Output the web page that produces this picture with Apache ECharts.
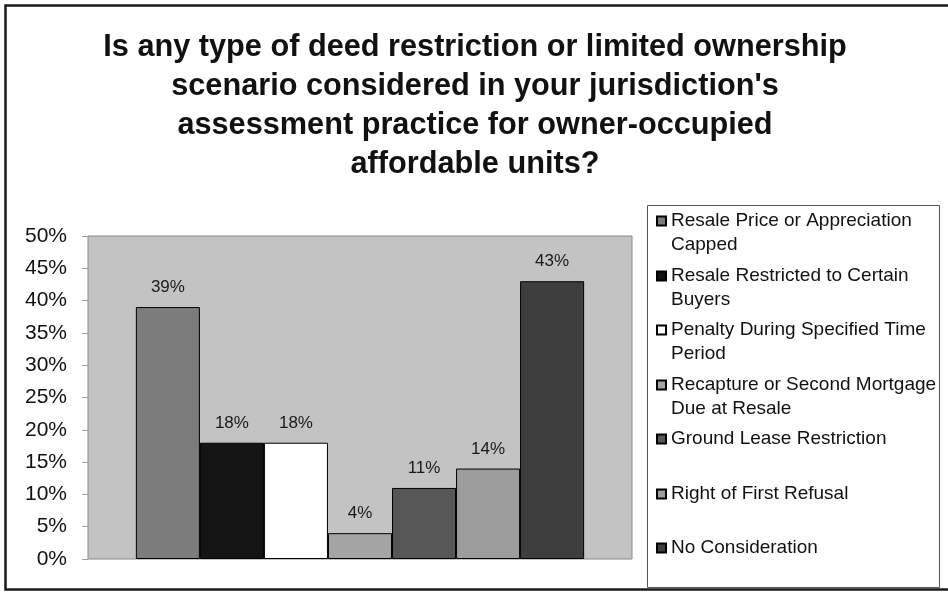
<!DOCTYPE html>
<html>
<head>
<meta charset="utf-8">
<script src="https://cdn.jsdelivr.net/npm/echarts@6/dist/echarts.min.js"></script>
<style>
  html, body { margin: 0; padding: 0; background: #ffffff; }
  #chart { width: 948px; height: 592px; }
</style>
</head>
<body>
<div id="chart"></div>
<script>
// Survey answers: share of jurisdictions per type of restriction considered
const seriesNames = [
  'Resale Price or Appreciation\nCapped',
  'Resale Restricted to Certain\nBuyers',
  'Penalty During Specified Time\nPeriod',
  'Recapture or Second Mortgage\nDue at Resale',
  'Ground Lease Restriction',
  'Right of First Refusal',
  'No Consideration'
];
const seriesValues = [39, 18, 18, 4, 11, 14, 43];
const yTicks = [0, 5, 10, 15, 20, 25, 30, 35, 40, 45, 50];
const barColors = ['#7c7c7c', '#141414', '#ffffff', '#a4a4a4', '#575757', '#9c9c9c', '#3e3e3e'];

const titleText = "Is any type of deed restriction or limited ownership\nscenario considered in your jurisdiction's\nassessment practice for owner-occupied\naffordable units?";

const FONT = '"Liberation Sans", Arial, sans-serif';

// vertical centre of each legend entry's first line
const legendRowCenters = [221, 276, 330, 385, 439, 494, 548];

const series = seriesNames.map((name, i) => ({
  type: 'bar',
  name: name,
  data: [seriesValues[i]],
  barGap: '0%',
  barCategoryGap: '17.6%',
  itemStyle: { color: barColors[i], borderColor: '#000000', borderWidth: 1 },
  label: {
    show: true,
    position: 'top',
    distance: 11,
    formatter: '{c}%',
    fontFamily: FONT,
    fontSize: 17,
    color: '#1a1a1a'
  }
}));

// Wrapped entries get an empty leading line so the marker sits beside the first line
const legends = seriesNames.map((name, i) => {
  const twoLine = name.indexOf('\n') >= 0;
  return {
    left: 656,
    top: legendRowCenters[i] - (twoLine ? 36 : 12),
    padding: 0,
    orient: 'vertical',
    itemWidth: 9,
    itemHeight: 9,
    selectedMode: false,
    icon: 'rect',
    data: [name],
    formatter: (n) => (n.indexOf('\n') >= 0 ? '\n' + n : n),
    textStyle: {
      fontFamily: FONT,
      fontSize: 19,
      lineHeight: 24,
      color: '#111111'
    }
  };
});

const chart = echarts.init(document.getElementById('chart'), null, { renderer: 'canvas' });
chart.setOption({
  animation: false,
  backgroundColor: '#ffffff',
  title: {
    text: titleText,
    left: 475,
    top: 28,
    padding: 0,
    textAlign: 'center',
    textStyle: {
      fontFamily: FONT,
      fontWeight: 'bold',
      fontSize: 30.7,
      lineHeight: 39,
      color: '#111111'
    }
  },
  graphic: [
    {
      // outer frame
      type: 'rect',
      shape: { x: 5.5, y: 5.5, width: 950, height: 584 },
      style: { fill: 'none', stroke: '#1a1a1a', lineWidth: 2.5 },
      silent: true
    },
    {
      // legend frame
      type: 'rect',
      shape: { x: 647.5, y: 205.5, width: 292, height: 382 },
      style: { fill: '#ffffff', stroke: '#555555', lineWidth: 1 },
      z: -1,
      silent: true
    }
  ],
  legend: legends,
  grid: {
    left: 88,
    top: 236,
    right: 316,
    bottom: 33,
    show: true,
    backgroundColor: '#c3c3c3',
    borderColor: '#8a8a8a',
    borderWidth: 1
  },
  xAxis: {
    type: 'category',
    data: [''],
    axisLine: { show: false },
    axisTick: { show: false },
    axisLabel: { show: false }
  },
  yAxis: {
    type: 'value',
    min: yTicks[0],
    max: yTicks[yTicks.length - 1],
    interval: yTicks[1] - yTicks[0],
    axisLine: { show: false },
    axisTick: { show: true, length: 6, lineStyle: { color: '#a0a0a0' } },
    splitLine: { show: false },
    axisLabel: {
      formatter: '{value}%',
      fontFamily: FONT,
      fontSize: 21,
      color: '#111111',
      margin: 21
    }
  },
  series: series
});
</script>
</body>
</html>
